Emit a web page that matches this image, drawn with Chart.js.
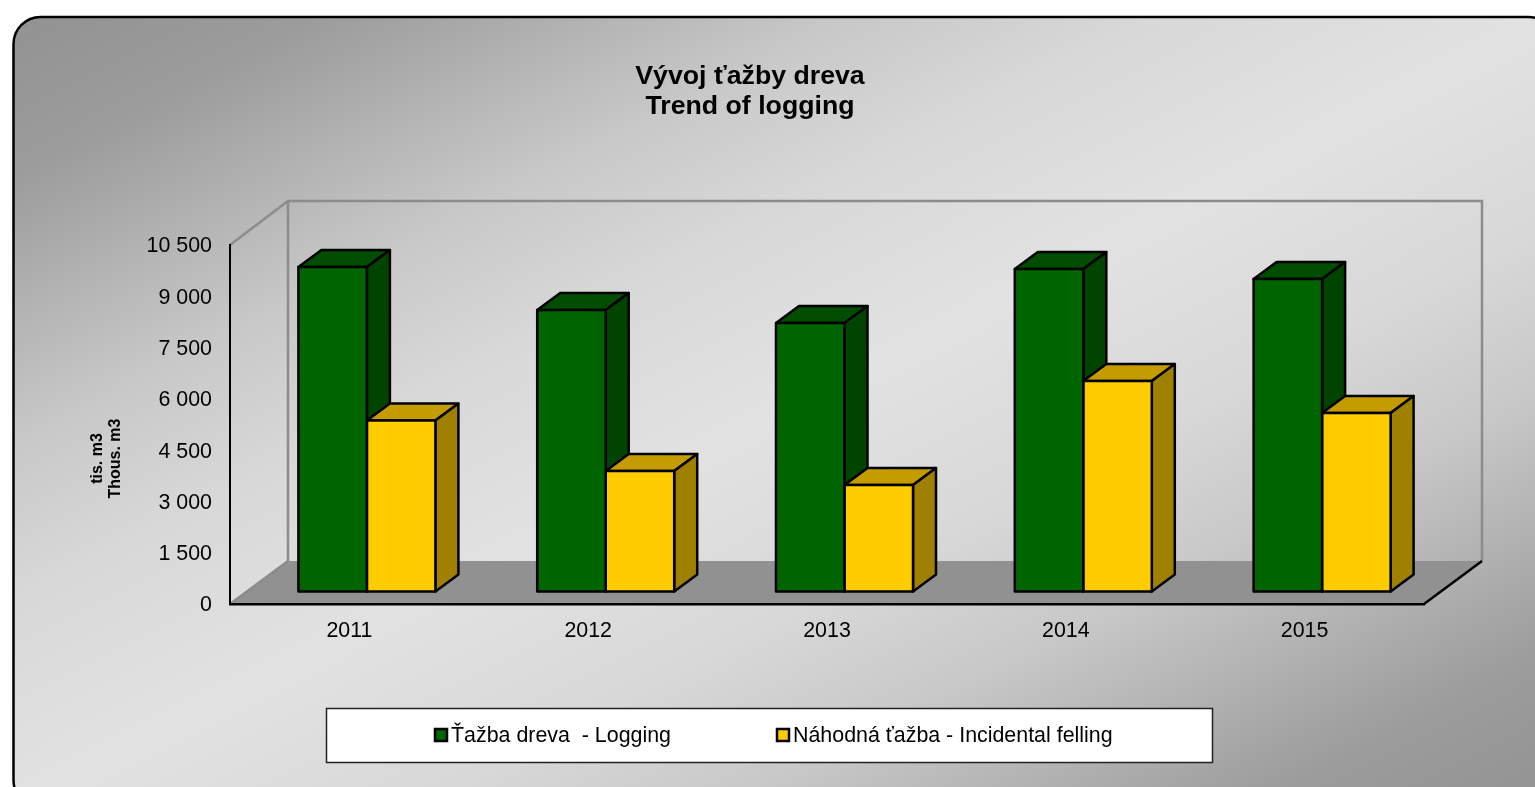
<!DOCTYPE html>
<html lang="sk">
<head>
<meta charset="utf-8">
<title>Vývoj ťažby dreva</title>
<script src="https://cdn.jsdelivr.net/npm/chart.js@4"></script>
<style>html,body{margin:0;padding:0;background:#fff}canvas{display:block}</style>
</head>
<body>
<canvas id="c" width="1535" height="787"></canvas>
<script>
const years = ['2011', '2012', '2013', '2014', '2015'];
const logging = [9490, 8234, 7854, 9433, 9140];
const incidental = [5000, 3525, 3115, 6157, 5221];
const seriesNames = ['Ťažba dreva  - Logging', 'Náhodná ťažba - Incidental felling'];
const titleLines = ['Vývoj ťažby dreva', 'Trend of logging'];
const axisLines = ['tis. m3', 'Thous. m3'];

const FONT = '"Liberation Sans", Arial, sans-serif';
const FLOOR = { dx: 58, dy: 43 };
const BAR = { dx: 23, dy: 17 };
const OFFSET = { x: 17.5, y: -12.5 };
const STROKE = 2.5;
const SHADES = [
  { top: '#004c00', side: '#004400' },
  { top: '#c49c00', side: '#a08000' }
];
const LEGEND = { x: 326, y: 708, w: 886, h: 54, items: [435, 777], cy: 735 };
const PANEL_STOPS = [
  [0, '#929292'], [0.1, '#9c9c9c'], [0.14, '#a6a6a6'], [0.2, '#b6b6b6'], [0.27, '#c8c8c8'], [0.37, '#d8d8d8'],
  [0.5, '#e2e2e2'],
  [0.63, '#d8d8d8'], [0.73, '#c8c8c8'], [0.8, '#b6b6b6'], [0.86, '#a6a6a6'], [0.9, '#9c9c9c'], [1, '#929292']
];

function poly(ctx, pts, fill, stroke, lw) {
  ctx.beginPath();
  pts.forEach((p, i) => i ? ctx.lineTo(p[0], p[1]) : ctx.moveTo(p[0], p[1]));
  ctx.closePath();
  if (fill) { ctx.fillStyle = fill; ctx.fill(); }
  if (stroke) { ctx.strokeStyle = stroke; ctx.lineWidth = lw; ctx.lineJoin = 'round'; ctx.stroke(); }
}

const scene = {
  id: 'scene',
  afterLayout(chart) {
    const t = chart.titleBlock;
    t.left = 0; t.right = 1500;
    const y = chart.scales.y;
    if (!y._shifted) {
      y._shifted = true;
      const orig = y.drawTitle.bind(y);
      y.drawTitle = function () {
        const c = y.ctx; c.save(); c.translate(0, 34); orig(); c.restore();
      };
    }
  },
  beforeDraw(chart) {
    const ctx = chart.ctx, a = chart.chartArea;
    ctx.save();
    ctx.fillStyle = '#fff';
    ctx.fillRect(0, 0, chart.width, chart.height);
    // rounded panel with diagonal gradient
    const px = 13.5, py = 17, pw = 1542, ph = 790;
    const k = pw * ph / (pw * pw + ph * ph);
    const cx = px + pw / 2, cy = py + ph / 2;
    const g = ctx.createLinearGradient(cx - ph * k, cy - pw * k, cx + ph * k, cy + pw * k);
    PANEL_STOPS.forEach(s => g.addColorStop(s[0], s[1]));
    ctx.beginPath();
    ctx.roundRect(px, py, pw, ph, 27);
    ctx.fillStyle = g;
    ctx.fill();
    ctx.strokeStyle = '#000';
    ctx.lineWidth = 2.5;
    ctx.stroke();
    // floor
    const d = FLOOR;
    poly(ctx, [[a.left, a.bottom], [a.left + d.dx, a.bottom - d.dy], [a.right + d.dx, a.bottom - d.dy], [a.right, a.bottom]], '#919191');
    // walls
    ctx.strokeStyle = '#8c8c8c';
    ctx.lineWidth = 2.5;
    ctx.lineJoin = 'miter';
    ctx.beginPath();
    ctx.moveTo(a.left, a.top);
    ctx.lineTo(a.left + d.dx, a.top - d.dy - 1);
    ctx.lineTo(a.right + d.dx, a.top - d.dy - 1);
    ctx.lineTo(a.right + d.dx, a.bottom - d.dy);
    ctx.moveTo(a.left + d.dx, a.top - d.dy - 1);
    ctx.lineTo(a.left + d.dx, a.bottom - d.dy);
    ctx.moveTo(a.left, a.bottom);
    ctx.lineTo(a.left + d.dx, a.bottom - d.dy);
    ctx.stroke();
    // floor right edge
    ctx.strokeStyle = '#000';
    ctx.lineWidth = 2.5;
    ctx.beginPath();
    ctx.moveTo(a.right, a.bottom);
    ctx.lineTo(a.right + d.dx, a.bottom - d.dy);
    ctx.stroke();
    // legend
    const L = LEGEND;
    ctx.fillStyle = '#fff';
    ctx.fillRect(L.x, L.y, L.w, L.h);
    ctx.strokeStyle = '#222';
    ctx.lineWidth = 1.5;
    ctx.strokeRect(L.x + .5, L.y + .5, L.w, L.h);
    ctx.font = '21.4px ' + FONT;
    ctx.textBaseline = 'middle';
    ctx.textAlign = 'left';
    chart.data.datasets.forEach((ds, i) => {
      const x = L.items[i];
      ctx.fillStyle = ds.backgroundColor;
      ctx.fillRect(x, L.cy - 6, 12, 12);
      ctx.strokeStyle = '#000';
      ctx.lineWidth = 2.5;
      ctx.strokeRect(x, L.cy - 6, 12, 12);
      ctx.fillStyle = '#000';
      ctx.fillText(ds.label, x + 16, L.cy + 1);
    });
    ctx.restore();
  },
  beforeDatasetsDraw(chart) {
    // 3D sides of every bar, back series first, from the bars' own scale geometry
    const ctx = chart.ctx, d = BAR;
    ctx.save();
    ctx.translate(OFFSET.x, OFFSET.y);
    chart.data.datasets.forEach((ds, i) => {
      const s = SHADES[i];
      chart.getDatasetMeta(i).data.forEach(b => {
        const l = b.x - b.width / 2, r = b.x + b.width / 2;
        poly(ctx, [[l, b.y], [l + d.dx, b.y - d.dy], [r + d.dx, b.y - d.dy], [r, b.y]], s.top, '#000', STROKE);
        poly(ctx, [[r, b.y], [r + d.dx, b.y - d.dy], [r + d.dx, b.base - d.dy], [r, b.base]], s.side, '#000', STROKE);
      });
    });
    ctx.restore();
  },
  beforeDatasetDraw(chart) {
    chart.ctx.save();
    chart.ctx.translate(OFFSET.x, OFFSET.y);
  },
  afterDatasetDraw(chart, args) {
    const ctx = chart.ctx;
    args.meta.data.forEach(b => {
      ctx.strokeStyle = '#000';
      ctx.lineWidth = STROKE;
      ctx.lineJoin = 'round';
      ctx.strokeRect(b.x - b.width / 2, b.y, b.width, b.base - b.y);
    });
    ctx.restore();
  }
};

new Chart(document.getElementById('c'), {
  type: 'bar',
  data: {
    labels: years,
    datasets: [
      { label: seriesNames[0], data: logging, backgroundColor: '#006400', borderWidth: 0 },
      { label: seriesNames[1], data: incidental, backgroundColor: '#ffcc00', borderWidth: 0 }
    ]
  },
  plugins: [scene],
  options: {
    responsive: false,
    animation: false,
    events: [],
    layout: { padding: { left: 0, right: 111, top: 0, bottom: 0 } },
    datasets: { bar: { categoryPercentage: 0.5737, barPercentage: 1 } },
    plugins: {
      legend: { display: false },
      tooltip: { enabled: false },
      title: {
        display: true,
        text: titleLines,
        color: '#000',
        font: { family: FONT, size: 26.7, weight: 'bold', lineHeight: 1.124 },
        padding: { top: 62, bottom: 123 }
      }
    },
    scales: {
      x: {
        grid: { display: false, drawTicks: false },
        border: { display: true, color: '#000', width: 2.5 },
        ticks: { color: '#000', font: { family: FONT, size: 21.4 }, padding: 14, maxRotation: 0 },
        afterFit(s) { s.height = 183; }
      },
      y: {
        min: 0,
        max: 10500,
        grid: { display: false, drawTicks: false },
        border: { display: true, color: '#000', width: 2 },
        ticks: {
          stepSize: 1500,
          color: '#000',
          padding: 18,
          labelOffset: 1.5,
          font: { family: FONT, size: 21.4 },
          callback: v => String(v).replace(/\B(?=(\d{3})+$)/g, ' ')
        },
        title: {
          display: true,
          text: axisLines,
          color: '#000',
          font: { family: FONT, size: 16, weight: 'bold', lineHeight: 1.1 },
          padding: { top: 89, bottom: 0 }
        },
        afterFit(s) { s.width = 230; }
      }
    }
  }
});
</script>
</body>
</html>
